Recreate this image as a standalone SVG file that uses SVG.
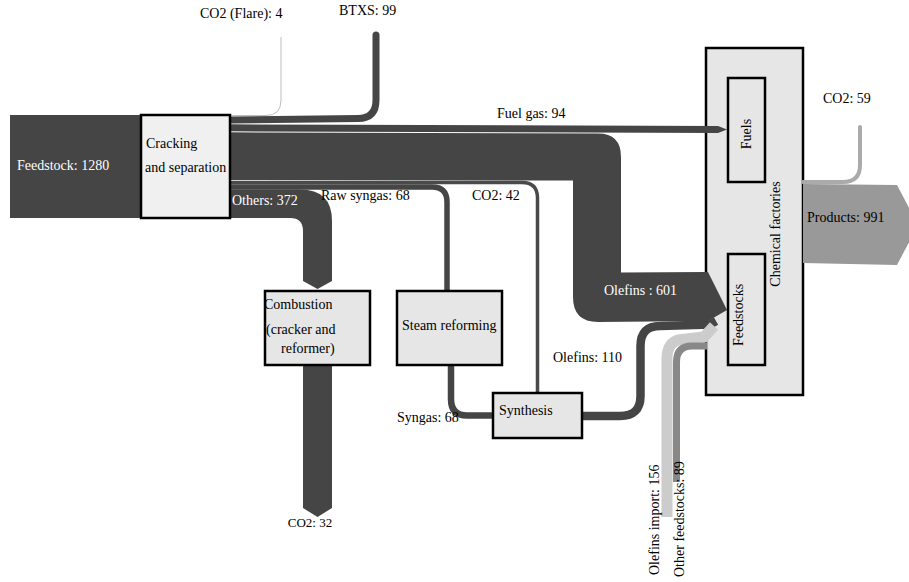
<svg xmlns="http://www.w3.org/2000/svg" width="909" height="582" viewBox="0 0 909 582" font-family="'Liberation Serif', serif" font-size="14">
  <style>
    .dark { fill: #454545; }
    .line-dark { fill: none; stroke: #454545; }
    .box { stroke: #000; stroke-width: 2.5; }
    .box-light { fill: #f0f0f0; }
    .box-gray { fill: #e6e6e6; }
    .white { fill: #fff; }
  </style>

  <rect width="909" height="582" fill="#fff"/>

  <!-- Outer plant box sits under the flows that run into it -->
  <g id="chemical-factories">
    <rect class="box box-gray" x="706" y="48" width="97" height="347"/>
    <text font-family="Liberation Serif, serif" transform="translate(780,234) rotate(-90)" text-anchor="middle">Chemical factories</text>
  </g>

  <g id="flows">
    <!-- Feedstock input band -->
    <rect class="dark" x="10" y="115" width="135" height="103"/>
    <!-- CO2 (Flare) -->
    <path d="M230,115.5 L266,115.5 Q281,115.5 281,100 L281,37" fill="none" stroke="#bdbdbd" stroke-width="1"/>
    <!-- BTXS -->
    <path class="line-dark" d="M230,120 L358,118.5 Q376,118.5 376,100 L376,35" stroke-width="7" stroke-linecap="round"/>
    <!-- Fuel gas -->
    <path class="dark" d="M230,124.3 L718,126 L727,129.5 L718,133 L230,131.3 Z"/>
    <!-- Olefins 601 -->
    <path class="dark" d="M230,132.3 L598,133.5 Q621,133.5 621,157 L621,272.5 L708,272 L727,310 L708,321 L598,322 Q573,322 573,297 L573,180.5 L230,180 Z"/>
    <!-- CO2 42 to synthesis -->
    <path d="M230,182.5 L522,182.5 Q537.5,182.5 537.5,198 L537.5,393" fill="none" stroke="#4a4a4a" stroke-width="3.5"/>
    <!-- Raw syngas -->
    <path class="line-dark" d="M230,187 L432,187 Q447,187 447,202 L447,291" stroke-width="5.5"/>
    <!-- Others -->
    <path class="dark" d="M230,189.5 L300,189.5 Q332,189.5 332,221 L332,281 L317.5,289 L303,281 L303,231 Q303,218 290,218 L230,218 Z"/>
    <!-- CO2 from combustion -->
    <path class="dark" d="M303,366 L332,366 L332,508 L317.5,517 L303,508 Z"/>
    <!-- Syngas -->
    <path class="line-dark" d="M451,365 L451,399 Q451,415.5 467,415.5 L493,415.5" stroke-width="6.5"/>
    <!-- Olefins 110 -->
    <path class="line-dark" d="M582,416 L620,416 Q640.5,416 640.5,396 L640.5,346 Q640.5,326 660,326 L710,324.5 L716,321" stroke-width="8.5"/>
    <!-- Olefins import -->
    <path d="M667,517 L667,358 Q667,339 686,339 L704,337 L714,326" fill="none" stroke="#cccccc" stroke-width="11"/>
    <!-- Other feedstocks -->
    <path d="M676.5,482 L676.5,362 Q676.5,346 692,346 L707,346" fill="none" stroke="#888888" stroke-width="7"/>
    <!-- CO2 from chemical factories -->
    <path d="M803,182 L843,182 Q860,182 860,165 L860,127" fill="none" stroke="#aaaaaa" stroke-width="4" stroke-linecap="round"/>
    <!-- Products -->
    <path d="M803,184 L897,185 L918,225 L897,265 L803,263 Z" fill="#999999"/>
  </g>

  <g id="flow-labels" font-family="Liberation Serif, serif">
    <text x="200" y="18">CO2 (Flare): 4</text>
    <text x="339" y="15">BTXS: 99</text>
    <text x="497" y="118">Fuel gas: 94</text>
    <text x="823" y="103">CO2: 59</text>
    <text class="white" x="17" y="170">Feedstock: 1280</text>
    <text class="white" x="232" y="205">Others: 372</text>
    <text x="321" y="200">Raw syngas: 68</text>
    <text x="472" y="200">CO2: 42</text>
    <text class="white" x="604" y="295">Olefins : 601</text>
    <text x="553" y="362">Olefins: 110</text>
    <text x="397" y="422">Syngas: 68</text>
    <text font-size="13" x="310" y="527" text-anchor="middle">CO2: 32</text>
    <text x="807" y="222">Products: 991</text>
    <text transform="translate(659,575) rotate(-90)">Olefins import: 156</text>
    <text transform="translate(684,577) rotate(-90)">Other feedstocks: 89</text>
  </g>

  <g id="cracking" font-family="Liberation Serif, serif">
    <rect class="box box-light" x="141" y="115" width="89" height="103"/>
    <text x="146" y="148">Cracking</text>
    <text x="145" y="172">and separation</text>
  </g>

  <g id="combustion" font-family="Liberation Serif, serif">
    <rect class="box box-gray" x="265" y="291" width="105" height="74"/>
    <text x="264" y="309">Combustion</text>
    <text x="266" y="334">(cracker and</text>
    <text x="281" y="353">reformer)</text>
  </g>

  <g id="steam-reforming" font-family="Liberation Serif, serif">
    <rect class="box box-gray" x="397" y="291" width="105" height="74"/>
    <text x="402" y="330">Steam reforming</text>
  </g>

  <g id="synthesis" font-family="Liberation Serif, serif">
    <rect class="box box-gray" x="493" y="393" width="89" height="45"/>
    <text x="499" y="415">Synthesis</text>
  </g>

  <g id="fuels" font-family="Liberation Serif, serif">
    <rect class="box box-gray" x="728" y="78" width="37" height="104"/>
    <text transform="translate(751,134) rotate(-90)" text-anchor="middle">Fuels</text>
  </g>

  <g id="feedstocks" font-family="Liberation Serif, serif">
    <rect class="box box-gray" x="728" y="254" width="37" height="111"/>
    <text transform="translate(743,315) rotate(-90)" text-anchor="middle">Feedstocks</text>
  </g>
</svg>
